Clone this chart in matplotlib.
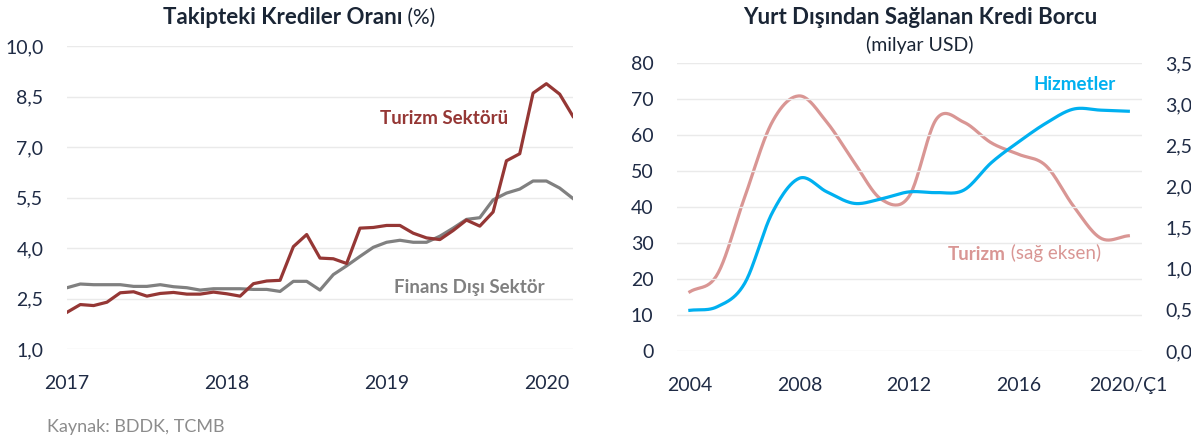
import numpy as np
import matplotlib
matplotlib.use("Agg")
import matplotlib.pyplot as plt

plt.rcParams['font.family'] = ['Lato', 'DejaVu Sans']

# ---------------- data ----------------
# Left chart: monthly, Jan 2017 .. Mar 2020
npl_tourism = [2.09, 2.32, 2.29, 2.39, 2.67, 2.70, 2.57, 2.65, 2.68, 2.63, 2.63, 2.69,
               2.64, 2.57, 2.94, 3.02, 3.04, 4.04, 4.40, 3.70, 3.68, 3.54, 4.59, 4.61,
               4.67, 4.67, 4.44, 4.30, 4.25, 4.52, 4.83, 4.65, 5.07, 6.59, 6.80, 8.60,
               8.88, 8.57, 7.91]
npl_nonfin = [2.82, 2.93, 2.91, 2.91, 2.91, 2.86, 2.86, 2.91, 2.85, 2.82, 2.75, 2.79,
              2.79, 2.79, 2.77, 2.77, 2.71, 3.01, 3.01, 2.75, 3.21, 3.47, 3.75, 4.02,
              4.17, 4.23, 4.17, 4.17, 4.35, 4.59, 4.85, 4.90, 5.43, 5.63, 5.75, 5.99,
              5.99, 5.78, 5.47]
left_xticks = [0, 12, 24, 36]
left_xlabels = ['2017', '2018', '2019', '2020']
left_yticks = [1.0, 2.5, 4.0, 5.5, 7.0, 8.5, 10.0]

# Right chart: annual, 2004 .. 2020/Q1
years = list(range(2004, 2021))
services = [11.3, 12.3, 18.8, 38.3, 48.0, 44.2, 41.0, 42.3, 44.2, 44.0, 44.7, 52.3,
            58.1, 63.3, 67.2, 66.9, 66.6]
tourism = [0.72, 0.93, 1.87, 2.78, 3.10, 2.78, 2.29, 1.84, 1.88, 2.82, 2.78, 2.53,
           2.39, 2.25, 1.76, 1.37, 1.40]
right_xticks = [2004, 2008, 2012, 2016, 2020]
right_xlabels = ['2004', '2008', '2012', '2016', '2020/Ç1']
left_axis_ticks = [0, 10, 20, 30, 40, 50, 60, 70, 80]
right_axis_ticks = [0.0, 0.5, 1.0, 1.5, 2.0, 2.5, 3.0, 3.5]


def smooth(x, y, n=24):
    """Catmull-Rom smoothing (as in spreadsheet 'smoothed line')."""
    x = np.asarray(x, float); y = np.asarray(y, float)
    P = np.column_stack([x, y])
    P = np.vstack([P[0] - (P[1] - P[0]), P, P[-1] + (P[-1] - P[-2])])
    out = []
    t = np.linspace(0, 1, n, endpoint=False)
    for i in range(1, len(P) - 2):
        p0, p1, p2, p3 = P[i - 1], P[i], P[i + 1], P[i + 2]
        c1 = p1 + (p2 - p0) / 6.0
        c2 = p2 - (p3 - p1) / 6.0
        tt = t[:, None]
        seg = ((1 - tt) ** 3) * p1 + 3 * ((1 - tt) ** 2) * tt * c1 + 3 * (1 - tt) * tt ** 2 * c2 + tt ** 3 * p2
        out.append(seg)
    out.append(P[-2][None, :])
    out = np.vstack(out)
    return out[:, 0], out[:, 1]


W, H = 1191, 441
fig = plt.figure(figsize=(W / 100, H / 100), dpi=100)

TICK = '#1F2B45'
TITLE = '#1A2535'
GRID = '#EAEAEA'
RED = '#953735'
GRAY = '#808080'
BLUE = '#00B0F0'
PINK = '#D99694'


def px(x0, y0, x1, y1):
    return [x0 / W, 1 - y1 / H, (x1 - x0) / W, (y1 - y0) / H]


# ---------------- left chart ----------------
ax = fig.add_axes(px(67, 46, 573, 349))
xs = np.arange(len(npl_tourism))
ax.plot(xs, npl_nonfin, color=GRAY, lw=2.3, solid_joinstyle='round', zorder=3)
ax.plot(xs, npl_tourism, color=RED, lw=2.3, solid_joinstyle='round', zorder=4)
ax.set_xlim(0, 38)
ax.set_ylim(1.0, 10.0)
ax.set_yticks(left_yticks)
ax.set_yticklabels([f'{v:.1f}'.replace('.', ',') for v in left_yticks])
ax.set_xticks(left_xticks)
ax.set_xticklabels(left_xlabels)
ax.grid(axis='y', color=GRID, lw=1)
ax.set_axisbelow(True)
for s in ax.spines.values():
    s.set_visible(False)
ax.tick_params(axis='both', length=0, labelsize=14, colors=TICK)
ax.tick_params(axis='y', pad=17)
ax.tick_params(axis='x', pad=19)

t1 = fig.text(163 / W, 1 - 17 / H, 'Takipteki Krediler Oranı', fontsize=16,
              fontweight='bold', color=TITLE, va='center', ha='left')
fig.canvas.draw()
ax.annotate(' (%)', xy=(1, 0), xycoords=t1, xytext=(0, 0), textcoords='offset points',
            fontsize=15, color=TITLE, va='bottom', ha='left')

fig.text(444 / W, 1 - 119 / H, 'Turizm Sektörü', fontsize=13.5, fontweight='bold',
         color=RED, ha='center', va='center')
fig.text(469 / W, 1 - 287 / H, 'Finans Dışı Sektör', fontsize=13.5, fontweight='bold',
         color=GRAY, ha='center', va='center')
fig.text(47 / W, 1 - 427 / H, 'Kaynak: BDDK, TCMB', fontsize=13, color='#8C8C8C',
         ha='left', va='center')

# ---------------- right chart ----------------
axr = fig.add_axes(px(677, 63, 1142, 351))
sx, sy = smooth(years, services)
axr.plot(sx, sy, color=BLUE, lw=2.3, zorder=4)
axr.set_xlim(2003.53, 2020.5)
axr.set_ylim(0, 80)
axr.set_yticks(left_axis_ticks)
axr.set_xticks(right_xticks)
axr.set_xticklabels(right_xlabels)
axr.grid(axis='y', color=GRID, lw=1)
axr.set_axisbelow(True)
for s in axr.spines.values():
    s.set_visible(False)
axr.tick_params(axis='both', length=0, labelsize=14, colors=TICK)
axr.tick_params(axis='y', pad=17)
axr.tick_params(axis='x', pad=19)

ax2 = axr.twinx()
tx, ty = smooth(years, tourism)
ax2.plot(tx, ty, color=PINK, lw=2.3, zorder=3)
ax2.set_ylim(0, 3.5)
ax2.set_yticks(right_axis_ticks)
ax2.set_yticklabels([f'{v:.1f}'.replace('.', ',') for v in right_axis_ticks])
for s in ax2.spines.values():
    s.set_visible(False)
ax2.tick_params(axis='y', length=0, labelsize=14, colors=TICK, pad=17)
axr.set_zorder(ax2.get_zorder() + 1)
axr.patch.set_visible(False)

fig.text(920 / W, 1 - 17 / H, 'Yurt Dışından Sağlanan Kredi Borcu', fontsize=16,
         fontweight='bold', color=TITLE, ha='center', va='center')
fig.text(920 / W, 1 - 45 / H, '(milyar USD)', fontsize=14, color=TITLE,
         ha='center', va='center')
fig.text(1075 / W, 1 - 85 / H, 'Hizmetler', fontsize=13.5, fontweight='bold',
         color=BLUE, ha='center', va='center')
t3 = fig.text(948 / W, 1 - 254 / H, 'Turizm', fontsize=13.5, fontweight='bold',
              color=PINK, ha='left', va='center')
ax2.annotate(' (sağ eksen)', xy=(1, 0), xycoords=t3, xytext=(0, 0),
             textcoords='offset points', fontsize=13.5, color=PINK, va='bottom', ha='left')

fig.savefig('out.png', dpi=100)
